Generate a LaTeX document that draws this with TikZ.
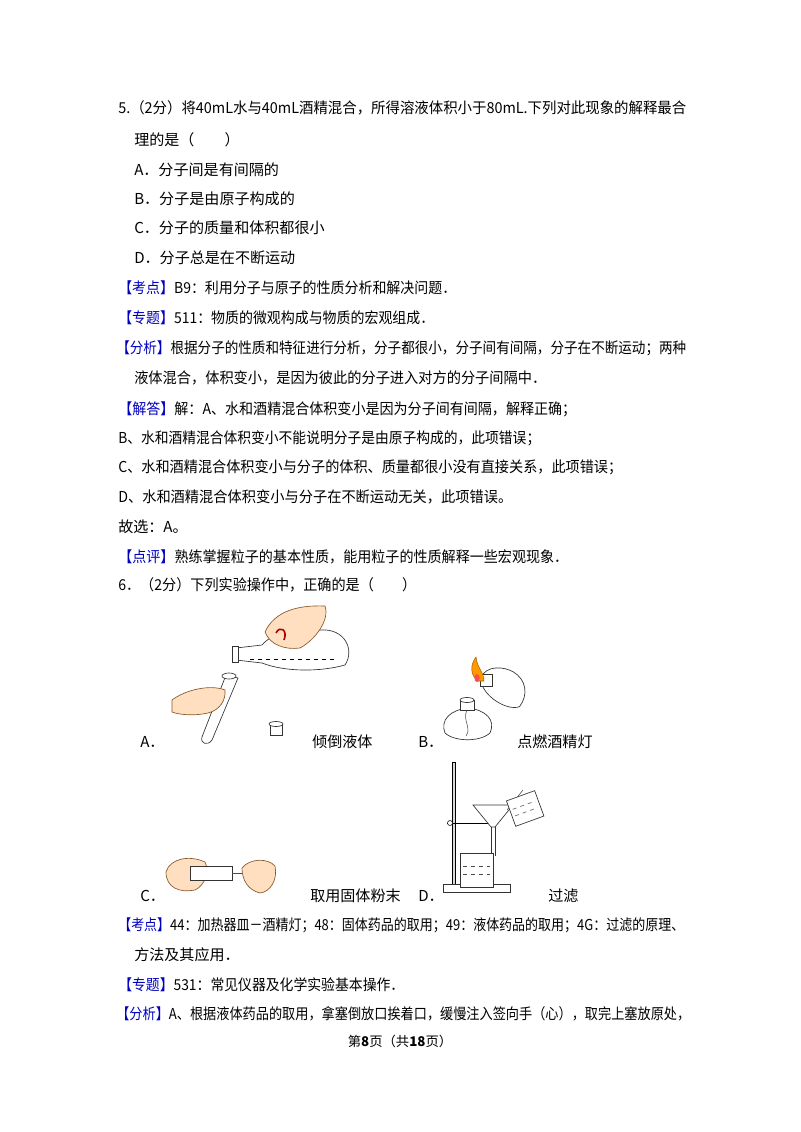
\documentclass[tikz,border=0pt]{standalone}
\usepackage{fontspec}
\setmainfont{Noto Sans CJK SC}
\newcommand\fitw[2]{\setbox0\hbox{#2}\pgfmathsetmacro\myr{0.75*#1/\wd0}\scalebox{\myr}[1]{\box0}}
\begin{document}
\begin{tikzpicture}[x=0.75pt,y=-0.75pt,
  txt/.style={anchor=base west,inner sep=0pt,font=\fontsize{11.3pt}{13pt}\selectfont},
  skin/.style={fill=orange!25,draw=brown!70!black,line width=0.5pt},
  glass/.style={draw=black!80,line width=0.5pt,fill=white}]
\useasboundingbox (0,0) rectangle (800,1132);
\node[txt] (l1) at (118,113) {\fitw{568}{5.（2分）将40mL水与40mL酒精混合，所得溶液体积小于80mL.下列对此现象的解释最合}};
\node[txt] (l2) at (134,145) {理的是（\quad\quad）};
\node[txt] (l3) at (134,175) {A．分子间是有间隔的};
\node[txt] (l4) at (134,204) {B．分子是由原子构成的};
\node[txt] (l5) at (134,233) {C．分子的质量和体积都很小};
\node[txt] (l6) at (134,263) {D．分子总是在不断运动};
\node[txt] (l7) at (118,293) {\fitw{338}{\textcolor{blue!75!black}{【考点】}B9：利用分子与原子的性质分析和解决问题．}};
\node[txt] (l8) at (118,323) {\fitw{316}{\textcolor{blue!75!black}{【专题】}511：物质的微观构成与物质的宏观组成．}};
\node[txt] (l9) at (116,353) {\fitw{570}{\textcolor{blue!75!black}{【分析】}根据分子的性质和特征进行分析，分子都很小，分子间有间隔，分子在不断运动；两种}};
\node[txt] (l10) at (134,383) {\fitw{412}{液体混合，体积变小，是因为彼此的分子进入对方的分子间隔中．}};
\node[txt] (l11) at (118,414) {\fitw{458}{\textcolor{blue!75!black}{【解答】}解：A、水和酒精混合体积变小是因为分子间有间隔，解释正确；}};
\node[txt] (l12) at (118,443) {\fitw{422}{B、水和酒精混合体积变小不能说明分子是由原子构成的，此项错误；}};
\node[txt] (l13) at (118,472) {\fitw{504}{C、水和酒精混合体积变小与分子的体积、质量都很小没有直接关系，此项错误；}};
\node[txt] (l14) at (118,502) {\fitw{394}{D、水和酒精混合体积变小与分子在不断运动无关，此项错误。}};
\node[txt] (l15) at (118,532) {故选：A。};
\node[txt] (l16) at (118,562) {\fitw{450}{\textcolor{blue!75!black}{【点评】}熟练掌握粒子的基本性质，能用粒子的性质解释一些宏观现象．}};
\node[txt] (l17) at (118,590) {\fitw{298}{6．（2分）下列实验操作中，正确的是（\quad\quad）}};
% labels
\node[txt] (la) at (140,747) {A．};
\node[txt] (ta) at (312,747) {倾倒液体};
\node[txt] (lb) at (418,747) {B．};
\node[txt] (tb) at (517,747) {点燃酒精灯};
\node[txt] (lc) at (140,901) {C．};
\node[txt] (tc) at (310,901) {取用固体粉末};
\node[txt] (ld) at (418,901) {D．};
\node[txt] (td) at (548,901) {过滤};
\node[txt] (l18) at (118,930) {\fitw{566}{\textcolor{blue!75!black}{【考点】}44：加热器皿－酒精灯；48：固体药品的取用；49：液体药品的取用；4G：过滤的原理、}};
\node[txt] (l19) at (134,960) {方法及其应用．};
\node[txt] (l20) at (118,990) {\fitw{286}{\textcolor{blue!75!black}{【专题】}531：常见仪器及化学实验基本操作．}};
\node[txt] (l21) at (116,1019) {\fitw{574}{\textcolor{blue!75!black}{【分析】}A、根据液体药品的取用，拿塞倒放口挨着口，缓慢注入签向手（心），取完上塞放原处，}};
\node[inner sep=0pt,font=\fontsize{10pt}{12pt}\selectfont] (ft) at (400,1041) {第\textbf{8}页（共\textbf{18}页）};
% ---- Figure A
\draw[glass] (236,648) -- (262,645) .. controls (275,630) and (300,628) .. (320,630) .. controls (345,628) and (355,650) .. (345,665) .. controls (320,672) and (285,672) .. (262,663) -- (236,660) -- cycle;
\draw[glass] (232,646) rectangle (238,662);
\draw[dashed,line width=0.6pt] (250,659) -- (335,659);
\draw[skin] (265,632) .. controls (275,610) and (300,605) .. (325,606) .. controls (330,620) and (315,640) .. (300,648) .. controls (285,650) and (270,645) .. (265,632) -- cycle;
\draw[draw=red!70!black,line width=1.2pt] (276,633) .. controls (280,625) and (288,630) .. (284,640);
\draw[glass] (226,675) -- (238,678) -- (212,740) .. controls (208,746) and (200,744) .. (202,737) -- cycle;
\draw[glass] (229,676) ellipse (7 and 3);
\draw[skin] (172,700) .. controls (185,690) and (210,684) .. (225,690) .. controls (226,700) and (220,710) .. (208,713) .. controls (195,716) and (180,715) .. (172,712) -- cycle;
\draw[glass] (270,724) rectangle (282,735);
\draw[glass] (276,724) ellipse (7 and 2.5);
% ---- Figure B
\draw[glass] (445,733) .. controls (440,720) and (450,710) .. (468,708) .. controls (486,710) and (496,720) .. (490,733) .. controls (480,742) and (455,742) .. (445,733) -- cycle;
\draw[glass] (460,700) rectangle (474,710);
\draw[glass] (467,700) ellipse (7 and 2.5);
\draw[black!70] (467,710) .. controls (462,720) and (472,728) .. (466,736);
\draw[glass,rotate around={-30:(502,685)}] (480,690) .. controls (478,675) and (495,668) .. (505,668) .. controls (520,668) and (530,680) .. (528,695) .. controls (520,705) and (490,705) .. (480,690) -- cycle;
\draw[glass] (480,674) rectangle (492,686);
\draw[fill=orange!80!yellow,draw=orange!70!black] (478,681) .. controls (470,675) and (470,665) .. (476,657) .. controls (477,668) and (484,672) .. (484,681) -- cycle;
\fill[red!70] (477,678) ellipse (2.5 and 4);
% ---- Figure C
\draw[skin] (166,872) .. controls (170,858) and (190,855) .. (205,862) .. controls (210,872) and (205,885) .. (195,890) .. controls (180,893) and (166,888) .. (166,872) -- cycle;
\draw[glass] (190,866) rectangle (232,880);
\draw[black!70] (232,873) -- (250,873);
\draw[skin] (242,868) .. controls (250,858) and (268,858) .. (275,866) .. controls (278,880) and (270,892) .. (260,893) .. controls (248,890) and (242,880) .. (242,868) -- cycle;
% ---- Figure D
\draw[fill=black!15,draw=black] (452,762) rectangle (455,888);
\draw[glass] (443,884) rectangle (510,892);
\draw[black] (447,823) -- (492,823);
\draw[black,fill=white] (450,823) circle (2.5);
\draw[glass] (473,805) -- (513,805) -- (495,827) -- (491,827) -- cycle;
\draw[black!80] (491,827) -- (491,856) (495,827) -- (495,856);
\draw[glass] (460,853) -- (493,853) -- (493,887) -- (460,887) -- cycle;
\draw[dashed,black!70] (463,866) -- (490,866) (463,874) -- (490,874);
\draw[black!70] (507,810) -- (523,790);
\draw[glass,rotate around={20:(525,808)}] (510,795) -- (540,795) -- (540,822) -- (510,822) -- cycle;
\draw[dashed,black!70,rotate around={20:(525,808)}] (513,805) -- (537,805) (513,812) -- (537,812);
\end{tikzpicture}
\end{document}
